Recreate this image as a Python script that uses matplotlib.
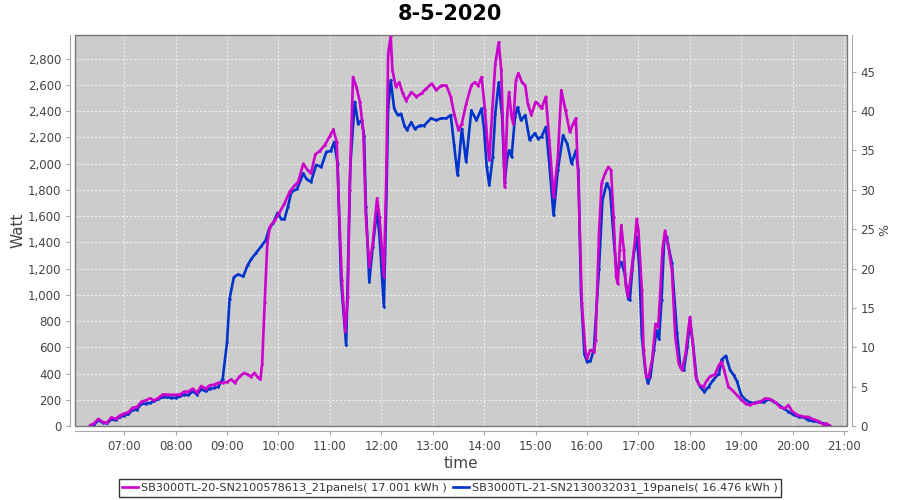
import matplotlib
matplotlib.use("Agg")
import matplotlib.pyplot as plt
import matplotlib.dates as mdates
from matplotlib.patches import Rectangle
from matplotlib.lines import Line2D
import pandas as pd
import numpy as np

title = "8-5-2020"
day = "2020-05-08"
label_mag = "SB3000TL-20-SN2100578613_21panels( 17.001 kWh )"
label_blue = "SB3000TL-21-SN2130032031_19panels( 16.476 kWh )"

mag_times = ["06:20","06:25","06:30","06:35","06:40","06:45","06:50","06:55","07:00","07:05",
             "07:10","07:15","07:20","07:25","07:30","07:35","07:40","07:45","07:50","07:55",
             "08:00","08:05","08:10","08:15","08:20","08:25","08:30","08:35","08:40","08:45",
             "08:50","08:55","09:00","09:05","09:09","09:15","09:20","09:25","09:28","09:32",
             "09:36","09:39","09:41","09:44","09:47","09:50","09:56","10:01","10:07","10:13",
             "10:19","10:23","10:29","10:34","10:38","10:43","10:48","10:54","11:00","11:04",
             "11:08","11:11","11:14","11:18","11:21","11:23","11:27","11:31","11:35","11:39",
             "11:42","11:46","11:50","11:55","11:58","12:03","12:06","12:08","12:11","12:13",
             "12:17","12:21","12:25","12:29","12:35","12:41","12:47","12:52","12:59","13:04",
             "13:10","13:16","13:21","13:25","13:30","13:34","13:39","13:45","13:49","13:53",
             "13:57","14:01","14:04","14:06","14:09","14:13","14:17","14:20","14:23","14:24",
             "14:27","14:29","14:32","14:34","14:37","14:40","14:44","14:48","14:51","14:55",
             "15:00","15:03","15:07","15:12","15:16","15:21","15:26","15:30","15:35","15:40",
             "15:44","15:47","15:50","15:54","15:58","16:00","16:04","16:08","16:10","16:14",
             "16:17","16:21","16:25","16:28","16:31","16:34","16:36","16:38","16:40","16:43",
             "16:45","16:48","16:52","16:56","16:58","17:00","17:04","17:06","17:09","17:12",
             "17:16","17:20","17:23","17:25","17:28","17:31","17:35","17:39","17:43","17:47",
             "17:51","17:55","18:00","18:03","18:07","18:11","18:16","18:20","18:24","18:29",
             "18:34","18:37","18:40","18:45","18:50","18:55","19:00","19:05","19:10","19:16",
             "19:22","19:28","19:34","19:40","19:45","19:51","19:55","19:59","20:05","20:13",
             "20:18","20:24","20:30","20:36","20:39","20:44"]
mag_watt = [5,20,55,30,25,65,55,80,95,105,
            140,145,185,195,210,195,215,240,240,238,
            238,240,262,262,285,255,305,285,310,315,
            330,330,335,355,330,380,405,390,375,405,
            370,355,475,945,1390,1520,1570,1625,1695,1785,
            1835,1860,2000,1950,1925,2070,2095,2140,2210,2260,
            2165,1595,1110,720,985,1800,2660,2585,2470,2250,
            1595,1215,1390,1735,1595,1135,1950,2835,2970,2710,
            2585,2620,2535,2480,2545,2510,2535,2570,2610,2560,
            2595,2595,2510,2380,2255,2305,2455,2595,2620,2595,
            2660,2405,2150,2025,2355,2760,2925,2710,2050,1820,
            2380,2545,2355,2305,2635,2690,2620,2595,2455,2370,
            2470,2455,2420,2510,2180,1745,2050,2560,2405,2240,
            2305,2345,1850,935,580,515,580,565,655,1465,
            1850,1925,1975,1950,1595,1135,1085,1340,1530,1340,
            1075,985,1190,1415,1580,1490,1035,580,375,375,
            505,780,755,960,1340,1490,1365,1190,680,475,
            425,555,830,655,375,310,300,350,380,390,
            465,490,425,300,270,235,200,170,160,175,
            185,210,205,180,145,135,160,115,85,70,
            70,50,38,8,20,0]

blue_times = ["06:20","06:25","06:30","06:35","06:40","06:45","06:50","06:55","07:00","07:05",
              "07:10","07:15","07:20","07:25","07:30","07:35","07:40","07:45","07:50","07:55",
              "08:00","08:05","08:10","08:15","08:20","08:25","08:30","08:35","08:40","08:45",
              "08:50","08:55","09:00","09:03","09:08","09:13","09:19","09:24","09:28","09:34",
              "09:40","09:45","09:49","09:54","09:59","10:03","10:07","10:11","10:15","10:22",
              "10:29","10:33","10:38","10:44","10:50","10:56","11:01","11:05","11:09","11:13",
              "11:18","11:19","11:24","11:29","11:33","11:37","11:40","11:42","11:46","11:50",
              "11:55","11:58","12:02","12:03","12:06","12:08","12:11","12:15","12:19","12:23",
              "12:27","12:30","12:35","12:39","12:45","12:50","12:58","13:04","13:10","13:16",
              "13:21","13:25","13:29","13:34","13:39","13:45","13:51","13:57","14:00","14:03",
              "14:06","14:10","14:13","14:17","14:21","14:24","14:27","14:29","14:32","14:36",
              "14:39","14:43","14:48","14:53","14:59","15:03","15:07","15:12","15:16","15:21",
              "15:26","15:32","15:37","15:42","15:47","15:50","15:53","15:57","16:00","16:04",
              "16:08","16:14","16:18","16:23","16:27","16:31","16:35","16:37","16:40","16:44",
              "16:48","16:50","16:54","16:58","17:01","17:04","17:08","17:11","17:14","17:18",
              "17:21","17:24","17:27","17:30","17:33","17:39","17:45","17:49","17:53","17:57",
              "18:00","18:04","18:08","18:12","18:17","18:22","18:27","18:34","18:37","18:42",
              "18:47","18:51","18:55","19:00","19:05","19:10","19:14","19:20","19:26","19:32",
              "19:38","19:44","19:49","19:55","20:01","20:07","20:13","20:18","20:24","20:30",
              "20:35","20:40","20:44"]
blue_watt = [0,10,45,25,20,50,45,70,80,90,
             125,125,170,170,175,190,205,220,220,215,
             215,225,240,235,265,240,280,265,285,290,
             300,360,640,970,1135,1155,1140,1225,1270,1320,
             1370,1415,1500,1550,1625,1580,1575,1670,1780,1810,
             1925,1880,1860,1990,1975,2090,2095,2165,2000,1110,
             705,615,2000,2470,2305,2330,2210,1670,1100,1365,
             1645,1440,1010,910,1745,2430,2635,2420,2370,2380,
             2290,2255,2315,2265,2290,2290,2345,2330,2345,2345,
             2370,2140,1910,2265,2015,2405,2330,2420,2255,1975,
             1835,2050,2380,2620,2355,1860,2050,2100,2050,2355,
             2430,2330,2370,2180,2230,2190,2205,2280,2000,1605,
             1950,2215,2150,2000,2100,1950,1010,550,490,495,
             580,1200,1720,1850,1795,1440,1135,1215,1250,1160,
             970,960,1290,1440,1215,680,425,325,375,580,
             730,660,960,1415,1440,1240,705,450,425,605,
             805,605,350,300,260,300,350,400,505,535,
             425,390,340,235,200,180,175,185,180,205,
             185,160,135,110,85,70,65,45,38,33,
             20,8,0]

mag_color = "#CC00CC"
blue_color = "#0033CC"
ymax = 2980

def to_dt(ts):
    return pd.to_datetime([day + " " + t for t in ts]).to_numpy()

tm = to_dt(mag_times)
tb = to_dt(blue_times)

fig = plt.figure(figsize=(9, 5), dpi=100)
L, R, T, B = 75.3, 846.7, 35, 426
ax = fig.add_axes([L / 900, 1 - B / 500, (R - L) / 900, (B - T) / 500])
ax.set_facecolor("#CCCCCC")

line_kw = dict(lw=1.9, marker=".", ms=1.8, solid_joinstyle="round", solid_capstyle="round")
ax.plot(tb, blue_watt, color=blue_color, zorder=3, **line_kw)
ax.plot(tm, mag_watt, color=mag_color, zorder=4, **line_kw)

ax.set_ylim(0, ymax)
ax.set_xlim(pd.Timestamp(day + " 06:03"), pd.Timestamp(day + " 21:03"))
ax.set_yticks(np.arange(0, 2801, 200))
ax.yaxis.set_major_formatter(matplotlib.ticker.FuncFormatter(lambda v, p: f"{int(v):,}"))
ax.xaxis.set_major_locator(mdates.HourLocator(byhour=range(7, 22)))
ax.xaxis.set_major_formatter(mdates.DateFormatter("%H:%M"))
ax.grid(True, color="#F4F4F4", linestyle=(0, (2, 2)), lw=0.7)
ax.set_axisbelow(True)

tick_col = "#444444"
axis_col = "#A8A8A8"
for s in ["left", "bottom"]:
    ax.spines[s].set_position(("outward", 3.5))
    ax.spines[s].set_color(axis_col)
ax.spines["top"].set_visible(False)
ax.spines["right"].set_visible(False)
ax.tick_params(axis="both", colors=axis_col, labelcolor=tick_col, labelsize=8.5, length=3, width=0.8)

ax.add_patch(Rectangle((0, 0), 1, 1, transform=ax.transAxes, fill=False,
                       edgecolor="#777777", lw=1.0, zorder=10, clip_on=False))

ax2 = ax.twinx()
ax2.set_ylim(0, ymax / 60.0)
ax2.set_yticks(np.arange(0, 46, 5))
for s in ["left", "top", "bottom"]:
    ax2.spines[s].set_visible(False)
ax2.spines["right"].set_position(("outward", 3.5))
ax2.spines["right"].set_color(axis_col)
ax2.tick_params(axis="y", colors=axis_col, labelcolor=tick_col, labelsize=8.5, length=3, width=0.8)

ax.set_ylabel("Watt", fontsize=11, color=tick_col, labelpad=2)
ax.set_xlabel("time", fontsize=11, color=tick_col, labelpad=2)
ax2.set_ylabel("%", fontsize=9, color=tick_col, labelpad=2)

fig.text(0.5, 0.971, title, ha="center", va="center", fontsize=15, fontweight="bold", color="black")

handles = [Line2D([], [], color=mag_color, lw=1.9, marker=".", ms=1.8),
           Line2D([], [], color=blue_color, lw=1.9, marker=".", ms=1.8)]
leg = fig.legend(handles, [label_mag, label_blue], loc="lower center", bbox_to_anchor=(0.5, 0.002),
                 ncol=2, fontsize=8.1, frameon=True, fancybox=False, edgecolor="black",
                 handlelength=1.4, handletextpad=0.3, columnspacing=0.5, borderpad=0.3,
                 borderaxespad=0.2)
leg.get_frame().set_linewidth(1.0)
for t in leg.get_texts():
    t.set_color("#333333")

fig.savefig("out.png", dpi=100)
